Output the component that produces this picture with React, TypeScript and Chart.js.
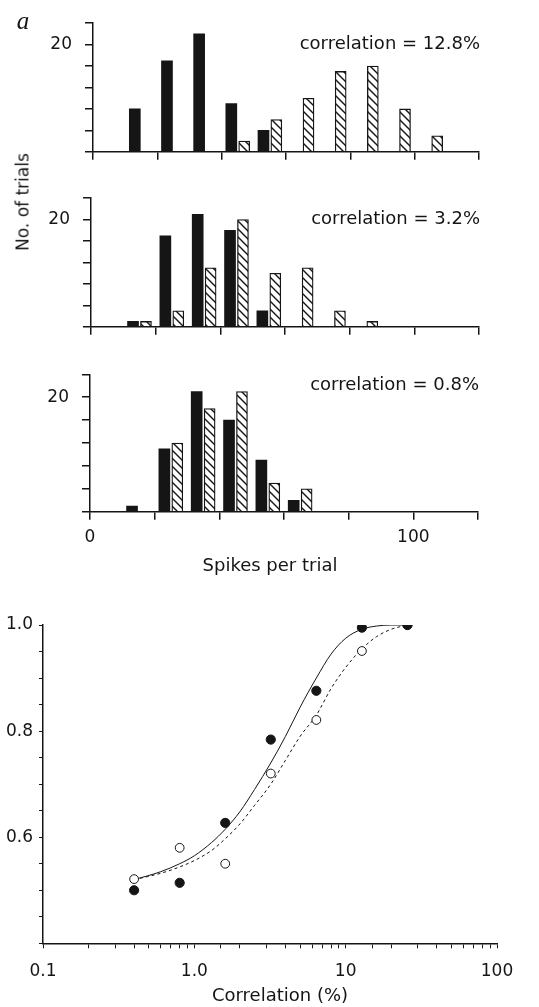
import React, { useEffect, useRef } from 'react';
import { Chart, registerables } from 'chart.js';

Chart.register(...registerables);

const FONT = '"DejaVu Sans", sans-serif';
const INK = '#151515';
const W = 539;

// ---------- histogram data (No. of trials per 10-spike bin) ----------
const binCenters = [15, 25, 35, 45, 55, 65, 75, 85, 95, 105];
const xTickLabels = [0, 100];
const yTickLabel = 20;

const highBlack = [8, 17, 22, 9, 4, null, null, null, null, null];
const highHatched = [null, null, null, 2, 6, 10, 15, 16, 8, 3];
const midBlack = [1, 17, 21, 18, 3, null, null, null, null, null];
const midHatched = [1, 3, 11, 20, 10, 11, 3, 1, null, null];
const lowBlack = [1, 11, 21, 16, 9, 2, null, null, null, null];
const lowHatched = [null, 12, 18, 21, 5, 4, null, null, null, null];

const panelLabels = ['correlation = 12.8%', 'correlation = 3.2%', 'correlation = 0.8%'];

// ---------- psychometric data ----------
const correlations = [0.4, 0.8, 1.6, 3.2, 6.4, 12.8, 25.6];
const filledScores = [0.5, 0.514, 0.627, 0.784, 0.876, 0.995, 1.0];
const openScores = [0.521, 0.58, 0.55, 0.72, 0.821, 0.951, 1.0];
const curveX = [0.4, 0.6, 0.8, 1.0, 1.3, 1.6, 2.0, 2.5, 3.2, 4, 5, 6.4, 8, 10, 12.8, 16, 20, 25.6];
const solidCurve = [0.52, 0.535, 0.55, 0.565, 0.59, 0.615, 0.648, 0.69, 0.74, 0.79, 0.845, 0.9, 0.945, 0.975, 0.992, 0.998, 1.0, 1.0];
const dashedCurve = [0.52, 0.532, 0.544, 0.556, 0.575, 0.597, 0.625, 0.66, 0.7, 0.745, 0.79, 0.83, 0.88, 0.92, 0.955, 0.978, 0.992, 1.0];

type Area = { left: number; top: number; right: number; bottom: number };
type TextItem = {
  text: string;
  x: number | ((c: any) => number);
  y: number | ((c: any) => number);
  align?: CanvasTextAlign;
  font: string;
};

function textPlugin(items: TextItem[]) {
  return {
    id: 'texts',
    afterDraw(chart: any) {
      const ctx = chart.ctx as CanvasRenderingContext2D;
      ctx.save();
      ctx.fillStyle = INK;
      ctx.textBaseline = 'middle';
      for (const it of items) {
        ctx.font = it.font;
        ctx.textAlign = it.align || 'center';
        const x = typeof it.x === 'function' ? it.x(chart) : it.x;
        const y = typeof it.y === 'function' ? it.y(chart) : it.y;
        ctx.fillText(it.text, x, y);
      }
      ctx.restore();
    },
  };
}

function makeHatch(): CanvasPattern | string {
  const c = document.createElement('canvas');
  const w = 8;
  const h = 8;
  c.width = w;
  c.height = h;
  const g = c.getContext('2d');
  if (!g) return '#fff';
  g.fillStyle = '#fff';
  g.fillRect(0, 0, w, h);
  g.strokeStyle = INK;
  g.lineWidth = 1.4;
  g.beginPath();
  g.moveTo(-w, -h);
  g.lineTo(2 * w, 2 * h);
  g.moveTo(-w, 0);
  g.lineTo(w, 2 * h);
  g.moveTo(0, -h);
  g.lineTo(2 * w, h);
  g.stroke();
  return g.createPattern(c, 'repeat') || '#fff';
}

type HistProps = {
  top: number;
  height: number;
  area: Area;
  black: (number | null)[];
  hatched: (number | null)[];
  label: string;
  labelValue: number;
  showX: boolean;
  extra: TextItem[];
};

function HistPanel({ top, height, area, black, hatched, label, labelValue, showX, extra }: HistProps) {
  const ref = useRef<HTMLCanvasElement>(null);
  useEffect(() => {
    if (!ref.current) return;
    const pattern = makeHatch();
    const pts = (arr: (number | null)[], off: number) =>
      binCenters
        .map((c, i) => (arr[i] == null ? null : { x: c + off, y: arr[i] as number }))
        .filter((p) => p !== null);
    const tickFont = { family: FONT, size: 17 };
    const chart = new Chart(ref.current, {
      type: 'bar',
      data: {
        datasets: [
          {
            data: pts(black, -2) as any,
            backgroundColor: INK,
            borderWidth: 0,
            barThickness: 11,
            grouped: false,
          } as any,
          {
            data: pts(hatched, 2) as any,
            backgroundColor: pattern as any,
            borderColor: INK,
            borderWidth: 1.3,
            barThickness: 11,
            grouped: false,
          } as any,
        ],
      },
      options: {
        responsive: false,
        animation: false,
        devicePixelRatio: 1,
        layout: { padding: { top: area.top, right: W - area.right, left: 0, bottom: 0 } },
        plugins: { legend: { display: false }, tooltip: { enabled: false } },
        scales: {
          x: {
            type: 'linear',
            min: 0,
            max: 120,
            offset: false,
            grid: { drawOnChartArea: false, drawTicks: true, tickLength: 8, color: INK, lineWidth: 1.5, offset: false },
            border: { display: true, color: INK, width: 1.5 },
            ticks: {
              stepSize: 20,
              autoSkip: false,
              maxRotation: 0,
              padding: 8,
              color: INK,
              font: tickFont,
              callback: (v: any) => (showX && xTickLabels.includes(Number(v)) ? String(v) : ''),
            },
            afterFit: (s: any) => {
              s.height = height - area.bottom;
            },
          },
          y: {
            type: 'linear',
            min: 0,
            max: 24,
            grid: { drawOnChartArea: false, drawTicks: true, tickLength: 8, color: INK, lineWidth: 1.5 },
            border: { display: true, color: INK, width: 1.5 },
            ticks: {
              stepSize: 4,
              autoSkip: false,
              padding: 13,
              color: INK,
              font: tickFont,
              callback: (v: any) => (Number(v) === yTickLabel ? String(v) : ''),
            },
            afterFit: (s: any) => {
              s.width = area.left;
            },
          },
        },
      } as any,
      plugins: [
        textPlugin([
          {
            text: label,
            x: (c) => c.chartArea.right + 1,
            y: (c) => c.scales.y.getPixelForValue(labelValue),
            align: 'right',
            font: `18px ${FONT}`,
          },
          ...extra,
        ]),
      ],
    });
    return () => chart.destroy();
  }, []);
  return (
    <canvas
      ref={ref}
      width={W}
      height={height}
      style={{ position: 'absolute', left: 0, top, width: W, height }}
    />
  );
}

function CurvePanel() {
  const ref = useRef<HTMLCanvasElement>(null);
  const top = 600;
  const height = 407;
  const area: Area = { left: 43, top: 25, right: 497, bottom: 343.3 };
  useEffect(() => {
    if (!ref.current) return;
    const tickFont = { family: FONT, size: 17 };
    const chart = new Chart(ref.current, {
      type: 'scatter',
      data: {
        datasets: [
          {
            data: correlations.map((c, i) => ({ x: c, y: filledScores[i] })),
            pointRadius: 4.6,
            pointBackgroundColor: INK,
            pointBorderColor: INK,
            pointBorderWidth: 1,
            showLine: false,
            order: 0,
          },
          {
            data: correlations.map((c, i) => ({ x: c, y: openScores[i] })),
            pointRadius: 4.4,
            pointBackgroundColor: '#fff',
            pointBorderColor: INK,
            pointBorderWidth: 1,
            showLine: false,
            order: 1,
          },
          {
            type: 'line',
            data: curveX.map((c, i) => ({ x: c, y: solidCurve[i] })),
            borderColor: INK,
            borderWidth: 1,
            pointRadius: 0,
            fill: false,
            cubicInterpolationMode: 'monotone',
            order: 2,
          } as any,
          {
            type: 'line',
            data: curveX.map((c, i) => ({ x: c, y: dashedCurve[i] })),
            borderColor: INK,
            borderWidth: 1,
            borderDash: [3, 3],
            pointRadius: 0,
            fill: false,
            cubicInterpolationMode: 'monotone',
            order: 3,
          } as any,
        ],
      },
      options: {
        responsive: false,
        animation: false,
        devicePixelRatio: 1,
        layout: { padding: { top: area.top, right: W - area.right, left: 0, bottom: 0 } },
        plugins: { legend: { display: false }, tooltip: { enabled: false } },
        scales: {
          x: {
            type: 'logarithmic',
            min: 0.1,
            max: 100,
            grid: { drawOnChartArea: false, drawTicks: true, tickLength: 5, color: INK, lineWidth: 1 },
            border: { display: true, color: INK, width: 1.5 },
            ticks: {
              autoSkip: false,
              maxRotation: 0,
              padding: 13,
              color: INK,
              font: tickFont,
              callback: (v: any) => {
                const n = Number(v);
                const l = Math.log10(n);
                if (Math.abs(l - Math.round(l)) > 1e-6) return '';
                if (n < 0.5) return '0.1';
                if (n < 5) return '1.0';
                return String(Math.round(n));
              },
            },
            afterFit: (s: any) => {
              s.height = height - area.bottom;
            },
          },
          y: {
            type: 'linear',
            min: 0.4,
            max: 1.0,
            grid: { drawOnChartArea: false, drawTicks: true, tickLength: 4, color: INK, lineWidth: 1 },
            border: { display: true, color: INK, width: 1.5 },
            ticks: {
              stepSize: 0.05,
              autoSkip: false,
              padding: 6,
              color: INK,
              font: tickFont,
              callback: (v: any) => {
                const n = Number(v);
                for (const t of [0.6, 0.8, 1.0]) if (Math.abs(n - t) < 1e-6) return t.toFixed(1);
                return '';
              },
            },
            afterFit: (s: any) => {
              s.width = area.left;
            },
          },
        },
      } as any,
      plugins: [textPlugin([{ text: 'Correlation (%)', x: 280, y: 396, font: `18px ${FONT}` }])],
    });
    return () => chart.destroy();
  }, []);
  return (
    <canvas
      ref={ref}
      width={W}
      height={height}
      style={{ position: 'absolute', left: 0, top, width: W, height }}
    />
  );
}

export default function App() {
  return (
    <div style={{ position: 'absolute', left: 0, top: 0, width: W, height: 1007, background: '#fff', overflow: 'hidden' }}>
      <HistPanel
        top={0}
        height={175}
        area={{ left: 93, top: 20.5, right: 479, bottom: 155.7 }}
        black={highBlack}
        hatched={highHatched}
        label={panelLabels[0]}
        labelValue={20}
        showX={false}
        extra={[{ text: 'a', x: 23, y: 22, font: 'italic 25px "Liberation Serif", serif' }]}
      />
      <HistPanel
        top={175}
        height={175}
        area={{ left: 91, top: 22.3, right: 479, bottom: 158.3 }}
        black={midBlack}
        hatched={midHatched}
        label={panelLabels[1]}
        labelValue={20}
        showX={false}
        extra={[]}
      />
      <HistPanel
        top={350}
        height={250}
        area={{ left: 90, top: 24.3, right: 478, bottom: 161.7 }}
        black={lowBlack}
        hatched={lowHatched}
        label={panelLabels[2]}
        labelValue={22}
        showX={true}
        extra={[{ text: 'Spikes per trial', x: 270, y: 216, font: `18px ${FONT}` }]}
      />
      <CurvePanel />
      <div
        style={{
          position: 'absolute',
          left: 23,
          top: 202,
          transform: 'translate(-50%, -50%) rotate(-90deg)',
          fontFamily: FONT,
          fontSize: 17,
          color: INK,
          whiteSpace: 'nowrap',
          lineHeight: 1,
        }}
      >
        No. of trials
      </div>
    </div>
  );
}
